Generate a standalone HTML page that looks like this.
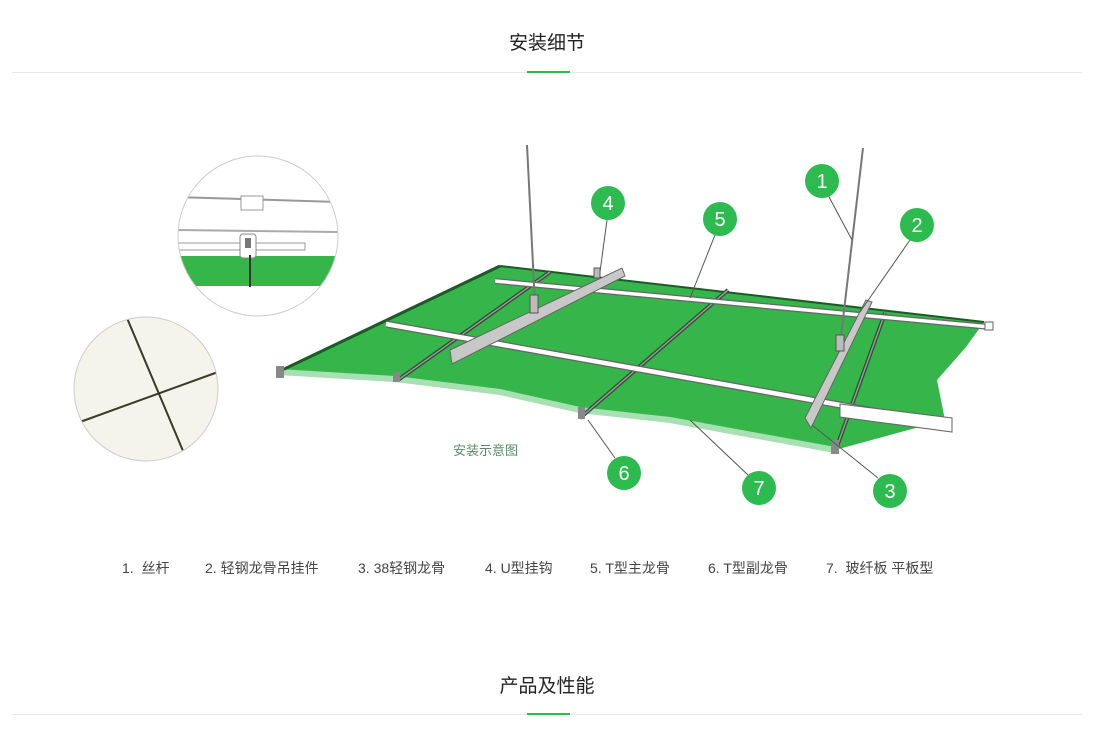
<!DOCTYPE html>
<html><head><meta charset="utf-8">
<style>
html,body{margin:0;padding:0;background:#fff;width:1117px;height:734px;overflow:hidden;font-family:"Liberation Sans","Noto Sans CJK SC",sans-serif;}
.t{position:absolute;left:0;width:1094px;text-align:center;font-size:19px;color:#222;}
.hr{position:absolute;left:12px;width:1070px;height:1px;background:#e8e8e8;}
.ul{position:absolute;left:527px;width:43px;height:2px;background:#2dbb4f;}
.leg{position:absolute;top:558px;font-size:14px;color:#444;white-space:nowrap;}
</style></head><body>
<div class="t" style="top:28px">安装细节</div>
<div class="hr" style="top:72px"></div>
<div class="ul" style="top:71px"></div>

<svg width="1117" height="734" style="position:absolute;left:0;top:0" xmlns="http://www.w3.org/2000/svg">
<!-- top circle -->
<defs>
<clipPath id="c1"><circle cx="258" cy="236" r="80"/></clipPath>
<clipPath id="c2"><circle cx="146" cy="389" r="72"/></clipPath>
</defs>
<g clip-path="url(#c1)">
<rect x="170" y="150" width="180" height="180" fill="#fff"/>
<line x1="175" y1="197" x2="340" y2="202" stroke="#999" stroke-width="2"/>
<rect x="241" y="196" width="22" height="14" fill="#fff" stroke="#999"/>
<line x1="175" y1="230" x2="340" y2="232" stroke="#aaa" stroke-width="2"/>
<rect x="175" y="243" width="130" height="7" fill="#fff" stroke="#999"/>
<rect x="175" y="256" width="170" height="30" fill="#36b54a"/>
<rect x="240" y="234" width="16" height="24" rx="3" fill="#fff" stroke="#888"/>
<rect x="245" y="238" width="6" height="10" fill="#777"/>
<line x1="250" y1="255" x2="250" y2="287" stroke="#333" stroke-width="2"/>
</g>
<circle cx="258" cy="236" r="80" fill="none" stroke="#ccc"/>
<g clip-path="url(#c2)">
<rect x="70" y="315" width="160" height="150" fill="#f4f3ec"/>
<line x1="127" y1="318" x2="186" y2="458" stroke="#3a3a2a" stroke-width="2"/>
<line x1="80" y1="422" x2="218" y2="372" stroke="#3a3a2a" stroke-width="2"/>
</g>
<circle cx="146" cy="389" r="72" fill="none" stroke="#ccc"/>

<!-- plate -->
<polygon points="500,266 984,322 966,347 937,380 945,420 835,450 670,420 580,410 500,392 395,379 278,372" fill="#36b54a"/>
<polyline points="278,372 395,379 500,392 580,410 670,420 835,450" fill="none" stroke="#a8e0b4" stroke-width="6"/>
<line x1="278" y1="372" x2="500" y2="266" stroke="#1d5a28" stroke-width="3"/>
<line x1="500" y1="266" x2="984" y2="322" stroke="#1d5a28" stroke-width="2"/>
<!-- secondary T bars -->
<g stroke="#2f4a35" stroke-width="4">
<line x1="728" y1="290" x2="580" y2="418"/>
<line x1="885" y1="313" x2="835" y2="452"/>
<line x1="550" y1="272" x2="398" y2="380"/>
</g>
<g stroke="#999" stroke-width="1.5">
<line x1="728" y1="290" x2="580" y2="418"/>
<line x1="885" y1="313" x2="835" y2="452"/>
<line x1="550" y1="272" x2="398" y2="380"/>
</g>
<rect x="393" y="372" width="7" height="10" fill="#888"/>
<rect x="578" y="407" width="7" height="12" fill="#888"/>
<rect x="831" y="440" width="8" height="14" fill="#888"/>
<rect x="276" y="366" width="8" height="12" fill="#888"/>
<!-- main T rails -->
<g stroke-linecap="butt">
<line x1="495" y1="281" x2="990" y2="327" stroke="#666" stroke-width="6"/>
<line x1="495" y1="281" x2="990" y2="327" stroke="#fff" stroke-width="3.5"/>
<line x1="386" y1="324" x2="952" y2="425" stroke="#666" stroke-width="7"/>
<line x1="386" y1="324" x2="952" y2="425" stroke="#fff" stroke-width="4.5"/>
<polygon points="840,404 952,418 952,432 840,417" fill="#fff" stroke="#666"/>
</g>
<rect x="985" y="322" width="8" height="8" fill="#fff" stroke="#666"/>
<!-- 38 main bars -->
<polygon points="450,350 622,268 625,276 452,364" fill="#c8c8c8" stroke="#666"/>
<polygon points="805,418 866,300 872,302 811,428" fill="#c8c8c8" stroke="#666"/>
<!-- rods -->
<line x1="527" y1="145" x2="535" y2="305" stroke="#777" stroke-width="2"/>
<line x1="863" y1="148" x2="840" y2="345" stroke="#777" stroke-width="2"/>
<rect x="530" y="295" width="8" height="18" fill="#bbb" stroke="#555"/>
<rect x="836" y="335" width="8" height="16" fill="#bbb" stroke="#555"/>
<rect x="594" y="268" width="6" height="10" fill="#bbb" stroke="#555"/>
<!-- leaders -->
<g stroke="#555" stroke-width="1">
<line x1="828" y1="195" x2="852" y2="240"/>
<line x1="910" y1="240" x2="860" y2="312"/>
<line x1="878" y1="478" x2="812" y2="425"/>
<line x1="607" y1="220" x2="600" y2="272"/>
<line x1="715" y1="235" x2="690" y2="298"/>
<line x1="615" y1="458" x2="588" y2="420"/>
<line x1="748" y1="475" x2="690" y2="420"/>
</g>
<g fill="#2dbb4f">
<circle cx="822" cy="181" r="17"/><circle cx="917" cy="225" r="17"/><circle cx="890" cy="491" r="17"/>
<circle cx="608" cy="203" r="17"/><circle cx="720" cy="219" r="17"/><circle cx="624" cy="473" r="17"/><circle cx="759" cy="488" r="17"/>
</g>
<g fill="#fff" font-family="Liberation Sans, sans-serif" font-size="20" text-anchor="middle">
<text x="822" y="188">1</text><text x="917" y="232">2</text><text x="890" y="498">3</text>
<text x="608" y="210">4</text><text x="720" y="226">5</text><text x="624" y="480">6</text><text x="759" y="495">7</text>
</g>
<text x="453" y="455" font-size="13" fill="#5a8a6a" font-family="Liberation Sans, Noto Sans CJK SC, sans-serif">安装示意图</text>
</svg>

<div class="leg" style="left:122px">1.&nbsp; 丝杆</div>
<div class="leg" style="left:205px">2. 轻钢龙骨吊挂件</div>
<div class="leg" style="left:358px">3. 38轻钢龙骨</div>
<div class="leg" style="left:485px">4. U型挂钩</div>
<div class="leg" style="left:590px">5. T型主龙骨</div>
<div class="leg" style="left:708px">6. T型副龙骨</div>
<div class="leg" style="left:826px">7.&nbsp; 玻纤板 平板型</div>

<div class="t" style="top:671px">产品及性能</div>
<div class="hr" style="top:714px"></div>
<div class="ul" style="top:713px"></div>
</body></html>
